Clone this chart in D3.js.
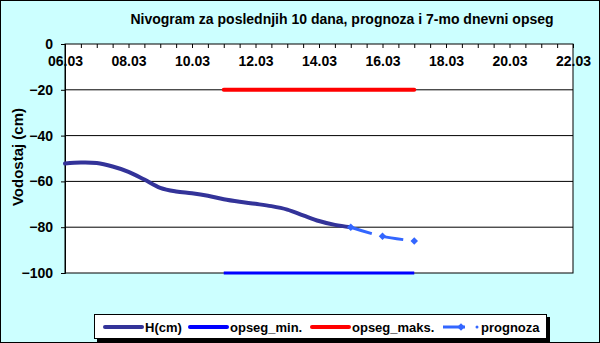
<!DOCTYPE html>
<html lang="en">
<head>
<meta charset="UTF-8">
<title>Nivogram</title>
<script src="https://d3js.org/d3.v7.min.js"></script>
<style>
  body { margin: 0; background: #fff; }
  svg { display: block; font-family: Arial, "Liberation Sans", sans-serif; }
</style>
</head>
<body>
<div id="chart"></div>
<script>
// data (day offsets from 06.03)
const hDays = [0, 0.5, 1, 1.5, 2, 2.5, 3, 3.5, 4, 4.5, 5, 5.5, 6, 6.5, 7, 7.5, 8, 8.5, 9];
const hValues = [-52.2, -51.8, -52, -53.5, -55.8, -59.2, -62.8, -64.4, -65.2, -66.3, -67.8, -68.9, -69.8, -70.8, -72.3, -74.8, -77.3, -79, -80];
const rangeDays = [5, 11];
const minValues = [-100, -100];
const maxValues = [-20, -20];
const progDays = [9, 10, 11];
const progValues = [-80, -84, -86];
const yTicks = [0, -20, -40, -60, -80, -100];
const startDate = new Date(Date.UTC(2024, 2, 6));
const endDate = new Date(Date.UTC(2024, 2, 22));

const W = 600, H = 343;
const plot = { left: 65, right: 573, top: 44, bottom: 273 };
const dayMs = 864e5;
const toDate = d => new Date(startDate.getTime() + d * dayMs);

const svg = d3.select("#chart").append("svg")
  .attr("width", W).attr("height", H);

// light cyan background with outer border
svg.append("rect").attr("x", 0.5).attr("y", 0.5).attr("width", W - 1).attr("height", H - 1)
  .attr("fill", "#ccffff").attr("stroke", "#000");

const x = d3.scaleUtc().domain([startDate, endDate]).range([plot.left, plot.right]);
const y = d3.scaleLinear().domain([-100, 0]).range([plot.bottom, plot.top]);

// plot area
svg.append("rect")
  .attr("x", plot.left).attr("y", plot.top)
  .attr("width", plot.right - plot.left).attr("height", plot.bottom - plot.top)
  .attr("fill", "#fff").attr("stroke", "#000");

// gridlines
svg.append("g").selectAll("line").data(yTicks.filter(v => v !== 0 && v !== -100)).join("line")
  .attr("x1", plot.left).attr("x2", plot.right)
  .attr("y1", d => y(d)).attr("y2", d => y(d))
  .attr("stroke", "#000").attr("stroke-width", 1);

// y axis
const yAxis = svg.append("g").attr("transform", `translate(${plot.left},0)`)
  .call(d3.axisLeft(y).tickValues(yTicks).tickSize(4).tickPadding(8));
yAxis.select(".domain").attr("stroke", "#000");
yAxis.selectAll("text").attr("font-size", 14).attr("font-weight", "bold").attr("fill", "#000");

// x axis along y=0 (top), ticks every 12h, labels every 2 days
const halfDays = d3.range(0, 16.01, 0.5).map(toDate);
const xAxis = svg.append("g").attr("transform", `translate(0,${y(0)})`)
  .call(d3.axisBottom(x).tickValues(halfDays).tickSize(4).tickPadding(8)
    .tickFormat((d, i) => i % 4 === 0 ? d3.utcFormat("%d.%m")(d) : ""));
xAxis.select(".domain").remove();
xAxis.selectAll("text").attr("font-size", 14).attr("font-weight", "bold").attr("fill", "#000");

// range lines
svg.append("path")
  .datum(rangeDays.map((d, i) => [d, maxValues[i]]))
  .attr("d", d3.line().x(d => x(toDate(d[0]))).y(d => y(d[1])))
  .attr("fill", "none").attr("stroke", "#ff0000").attr("stroke-width", 4).attr("stroke-linecap", "round");
svg.append("path")
  .datum(rangeDays.map((d, i) => [d, minValues[i]]))
  .attr("d", d3.line().x(d => x(toDate(d[0]))).y(d => y(d[1])))
  .attr("fill", "none").attr("stroke", "#0000ff").attr("stroke-width", 3);

// observed level
svg.append("path")
  .datum(hDays.map((d, i) => [d, hValues[i]]))
  .attr("d", d3.line().curve(d3.curveCatmullRom).x(d => x(toDate(d[0]))).y(d => y(d[1])))
  .attr("fill", "none").attr("stroke", "#333399").attr("stroke-width", 4).attr("stroke-linecap", "round");

// forecast
const progColor = "#3366ff";
svg.append("path")
  .datum(progDays.map((d, i) => [d, progValues[i]]))
  .attr("d", d3.line().curve(d3.curveCatmullRom).x(d => x(toDate(d[0]))).y(d => y(d[1])))
  .attr("fill", "none").attr("stroke", progColor).attr("stroke-width", 3)
  .attr("stroke-dasharray", "22,10");
// square diamond marker
const diamond = d3.symbol().type(d3.symbolSquare).size(28);
svg.append("g").selectAll("path").data(progDays.map((d, i) => [d, progValues[i]])).join("path")
  .attr("d", diamond)
  .attr("transform", d => `translate(${x(toDate(d[0]))},${y(d[1])}) rotate(45)`)
  .attr("fill", progColor);

// title
svg.append("text").attr("x", 342).attr("y", 24).attr("text-anchor", "middle")
  .attr("font-size", 14).attr("font-weight", "bold").text("Nivogram za poslednjih 10 dana, prognoza i 7-mo dnevni opseg");

// y title
svg.append("text").attr("transform", "translate(23,157) rotate(-90)").attr("text-anchor", "middle")
  .attr("font-size", 15).attr("font-weight", "bold").text("Vodostaj (cm)");

// legend
const lg = svg.append("g");
lg.append("rect").attr("x", 97).attr("y", 317).attr("width", 453).attr("height", 25).attr("fill", "#000");
lg.append("rect").attr("x", 94.5).attr("y", 314.5).attr("width", 452).attr("height", 24)
  .attr("fill", "#fff").attr("stroke", "#000");
const items = [
  { name: "H(cm)", color: "#333399", x: 105, w: 4 },
  { name: "opseg_min.", color: "#0000ff", x: 190, w: 4 },
  { name: "opseg_maks.", color: "#ff0000", x: 312, w: 4 },
  { name: "prognoza", color: progColor, x: 443, w: 3, dash: true }
];
items.forEach(it => {
  if (it.dash) {
    lg.append("line").attr("x1", it.x).attr("x2", it.x + 22).attr("y1", 327).attr("y2", 327)
      .attr("stroke", it.color).attr("stroke-width", it.w);
    lg.append("circle").attr("cx", it.x + 34).attr("cy", 327).attr("r", 1.5).attr("fill", it.color);
    lg.append("path").attr("d", diamond).attr("transform", `translate(${it.x + 18},327) rotate(45)`).attr("fill", it.color);
    lg.append("text").attr("x", it.x + 38).attr("y", 332).attr("font-size", 13).attr("font-weight", "bold").text(it.name);
  } else {
    lg.append("line").attr("x1", it.x).attr("x2", it.x + 37).attr("y1", 327).attr("y2", 327)
      .attr("stroke", it.color).attr("stroke-width", it.w).attr("stroke-linecap", "round");
    lg.append("text").attr("x", it.x + 40).attr("y", 332).attr("font-size", 13).attr("font-weight", "bold").text(it.name);
  }
});
</script>
</body>
</html>
